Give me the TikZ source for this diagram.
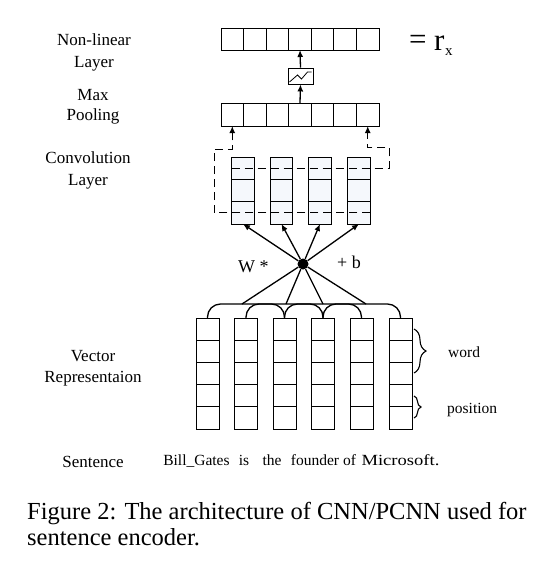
\documentclass[tikz,border=0pt]{standalone}
\usepackage{fontspec}
\setmainfont{Liberation Serif}
\usetikzlibrary{arrows.meta,decorations.pathreplacing,calc}
\definecolor{convfill}{RGB}{245,248,252}
\begin{document}
\begin{tikzpicture}[x=1pt,y=-1pt,
  cell/.style={draw, line width=0.9pt, inner sep=0pt, outer sep=0pt, minimum width=22.57pt, minimum height=22pt},
  ccell/.style={draw, fill=convfill, line width=0.9pt, inner sep=0pt, outer sep=0pt, minimum width=22.6pt, minimum height=22.33pt},
  bcell/.style={draw, line width=0.9pt, inner sep=0pt, outer sep=0pt, minimum width=23pt, minimum height=22.2pt},
  arr/.style={line width=1.3pt, -{Latex[length=7pt,width=6pt]}},
  conn/.style={line width=1.3pt},
  dsh/.style={line width=1pt, dash pattern=on 8pt off 5pt},
  lbl/.style={font=\fontsize{17}{20}\selectfont, anchor=base, inner sep=0pt},
  wrd/.style={font=\fontsize{15.5}{18}\selectfont, anchor=base, inner sep=0pt},
  side/.style={font=\fontsize{15.5}{18}\selectfont, anchor=base west, inner sep=0pt},
  brc/.style={line width=1.1pt, decorate},
]
\fill[white] (0,0) rectangle (556,576);
\useasboundingbox (0,0) rectangle (556,576);

% non-linear layer and max pooling bars
\foreach \i in {1,...,7} {
  \node[cell] (t\i) at ({221+22.571*(\i-0.5)},39) {};
  \node[cell, minimum height=23pt] (m\i) at ({221+22.571*(\i-0.5)},114.5) {};
}
\node[draw, line width=0.9pt, minimum width=25pt, minimum height=16pt, inner sep=0pt] (sig) at (300.5,76) {};
\draw[line width=0.8pt] ($(sig.center)+(-11,6)$) -- ++(8,-7) -- ++(4,4) -- ++(6,-7) -- ++(4,0);
\draw[arr] (m4.north) -- (sig.south);
\draw[arr] (sig.north) -- (t4.south);

\node[font=\fontsize{31}{31}\selectfont, anchor=base west, inner sep=0pt] (eq) at (409,49) {=};
\node[font=\fontsize{31}{31}\selectfont, anchor=base west, inner sep=0pt] (rr) at (434,50) {r};
\node[font=\fontsize{15}{15}\selectfont, anchor=base west, inner sep=0pt] (rx) at (445,55) {x};

% convolution layer
\foreach \j/\x in {1/243,2/281.5,3/320,4/359} {
  \foreach \k/\y in {1/168.17,2/190.5,3/212.83}
    \node[ccell] (c\j-\k) at (\x,\y) {};
}
\coordinate (lB) at ($(m1.south)+(0,12)$);
\coordinate (rB) at ($(m7.south)+(0,12)$);
\draw[dsh] (c4-3.east) -| (214,149) -| (lB);
\draw[arr] (lB) -- (m1.south);
\draw[dsh] (c1-1.west) -| (389,147) -| (rB);
\draw[arr] (rB) -- (m7.south);

% dot and connections
\node[circle, fill=black, inner sep=0pt, minimum size=11pt] (dot) at (303,264) {};
\foreach \j in {1,...,4} \draw[arr] (dot) -- (c\j-3.south);
\node[font=\fontsize{18}{20}\selectfont, anchor=base west, inner sep=0pt] (wl) at (238,272) {W *};
\node[font=\fontsize{18}{20}\selectfont, anchor=base west, inner sep=0pt] (bl) at (337,268) {+ b};

% vector representation
\foreach \j/\x in {1/207.5,2/246,3/284.5,4/323,5/361.5,6/400.5} {
  \foreach \k in {1,...,5}
    \node[bcell] (b\j-\k) at (\x,{318+22.2*(\k-0.5)}) {};
}
\foreach \j in {1,...,4} {
  \pgfmathtruncatemacro{\jj}{\j+2}
  \draw[conn, rounded corners=13pt] (b\j-1.north) -- ++(0,-14) -| (b\jj-1.north);
}
\coordinate (j1) at (242,304);
\coordinate (j2) at (286,304);
\coordinate (j3) at (323,304);
\coordinate (j4) at (366,304);
\foreach \j in {1,...,4} \draw[conn] (dot) -- (j\j);

\draw[brc, decoration={brace, amplitude=12pt}] (414,329) -- (414,373);
\draw[brc, decoration={brace, amplitude=7pt}] (414,396) -- (414,418);
\node[side] (word) at (448,357) {word};
\node[side] (pos) at (447,413) {position};

% left labels
\node[lbl] (l1) at (94,45) {Non-linear};
\node[lbl] (l2) at (94,67) {Layer};
\node[lbl] (l3) at (93,100) {Max};
\node[lbl] (l4) at (93,120) {Pooling};
\node[lbl] (l5) at (88,163) {Convolution};
\node[lbl] (l6) at (88,185) {Layer};
\node[lbl] (l7) at (93,361) {Vector};
\node[lbl] (l8) at (93,382) {Representaion};
\node[lbl] (l9) at (93,467) {Sentence};

% sentence words
\node[wrd] (w1) at (196.5,465) {Bill\_Gates};
\node[wrd] (w2) at (244,465) {is};
\node[wrd] (w3) at (272,465) {the};
\node[wrd] (w4) at (315,465) {founder};
\node[wrd] (w5) at (349.5,465) {of};
\node[wrd] (w6) at (400.5,465) {\scalebox{1.2}[1]{Microsoft.}};

% caption
\node[anchor=base west, inner sep=0pt, font=\fontsize{24.5}{28}\selectfont] (cap1) at (27,519) {Figure 2: The architecture of CNN/PCNN used for};
\node[anchor=base west, inner sep=0pt, font=\fontsize{24.5}{28}\selectfont] (cap2) at (27,545) {sentence encoder.};
\end{tikzpicture}
\end{document}
